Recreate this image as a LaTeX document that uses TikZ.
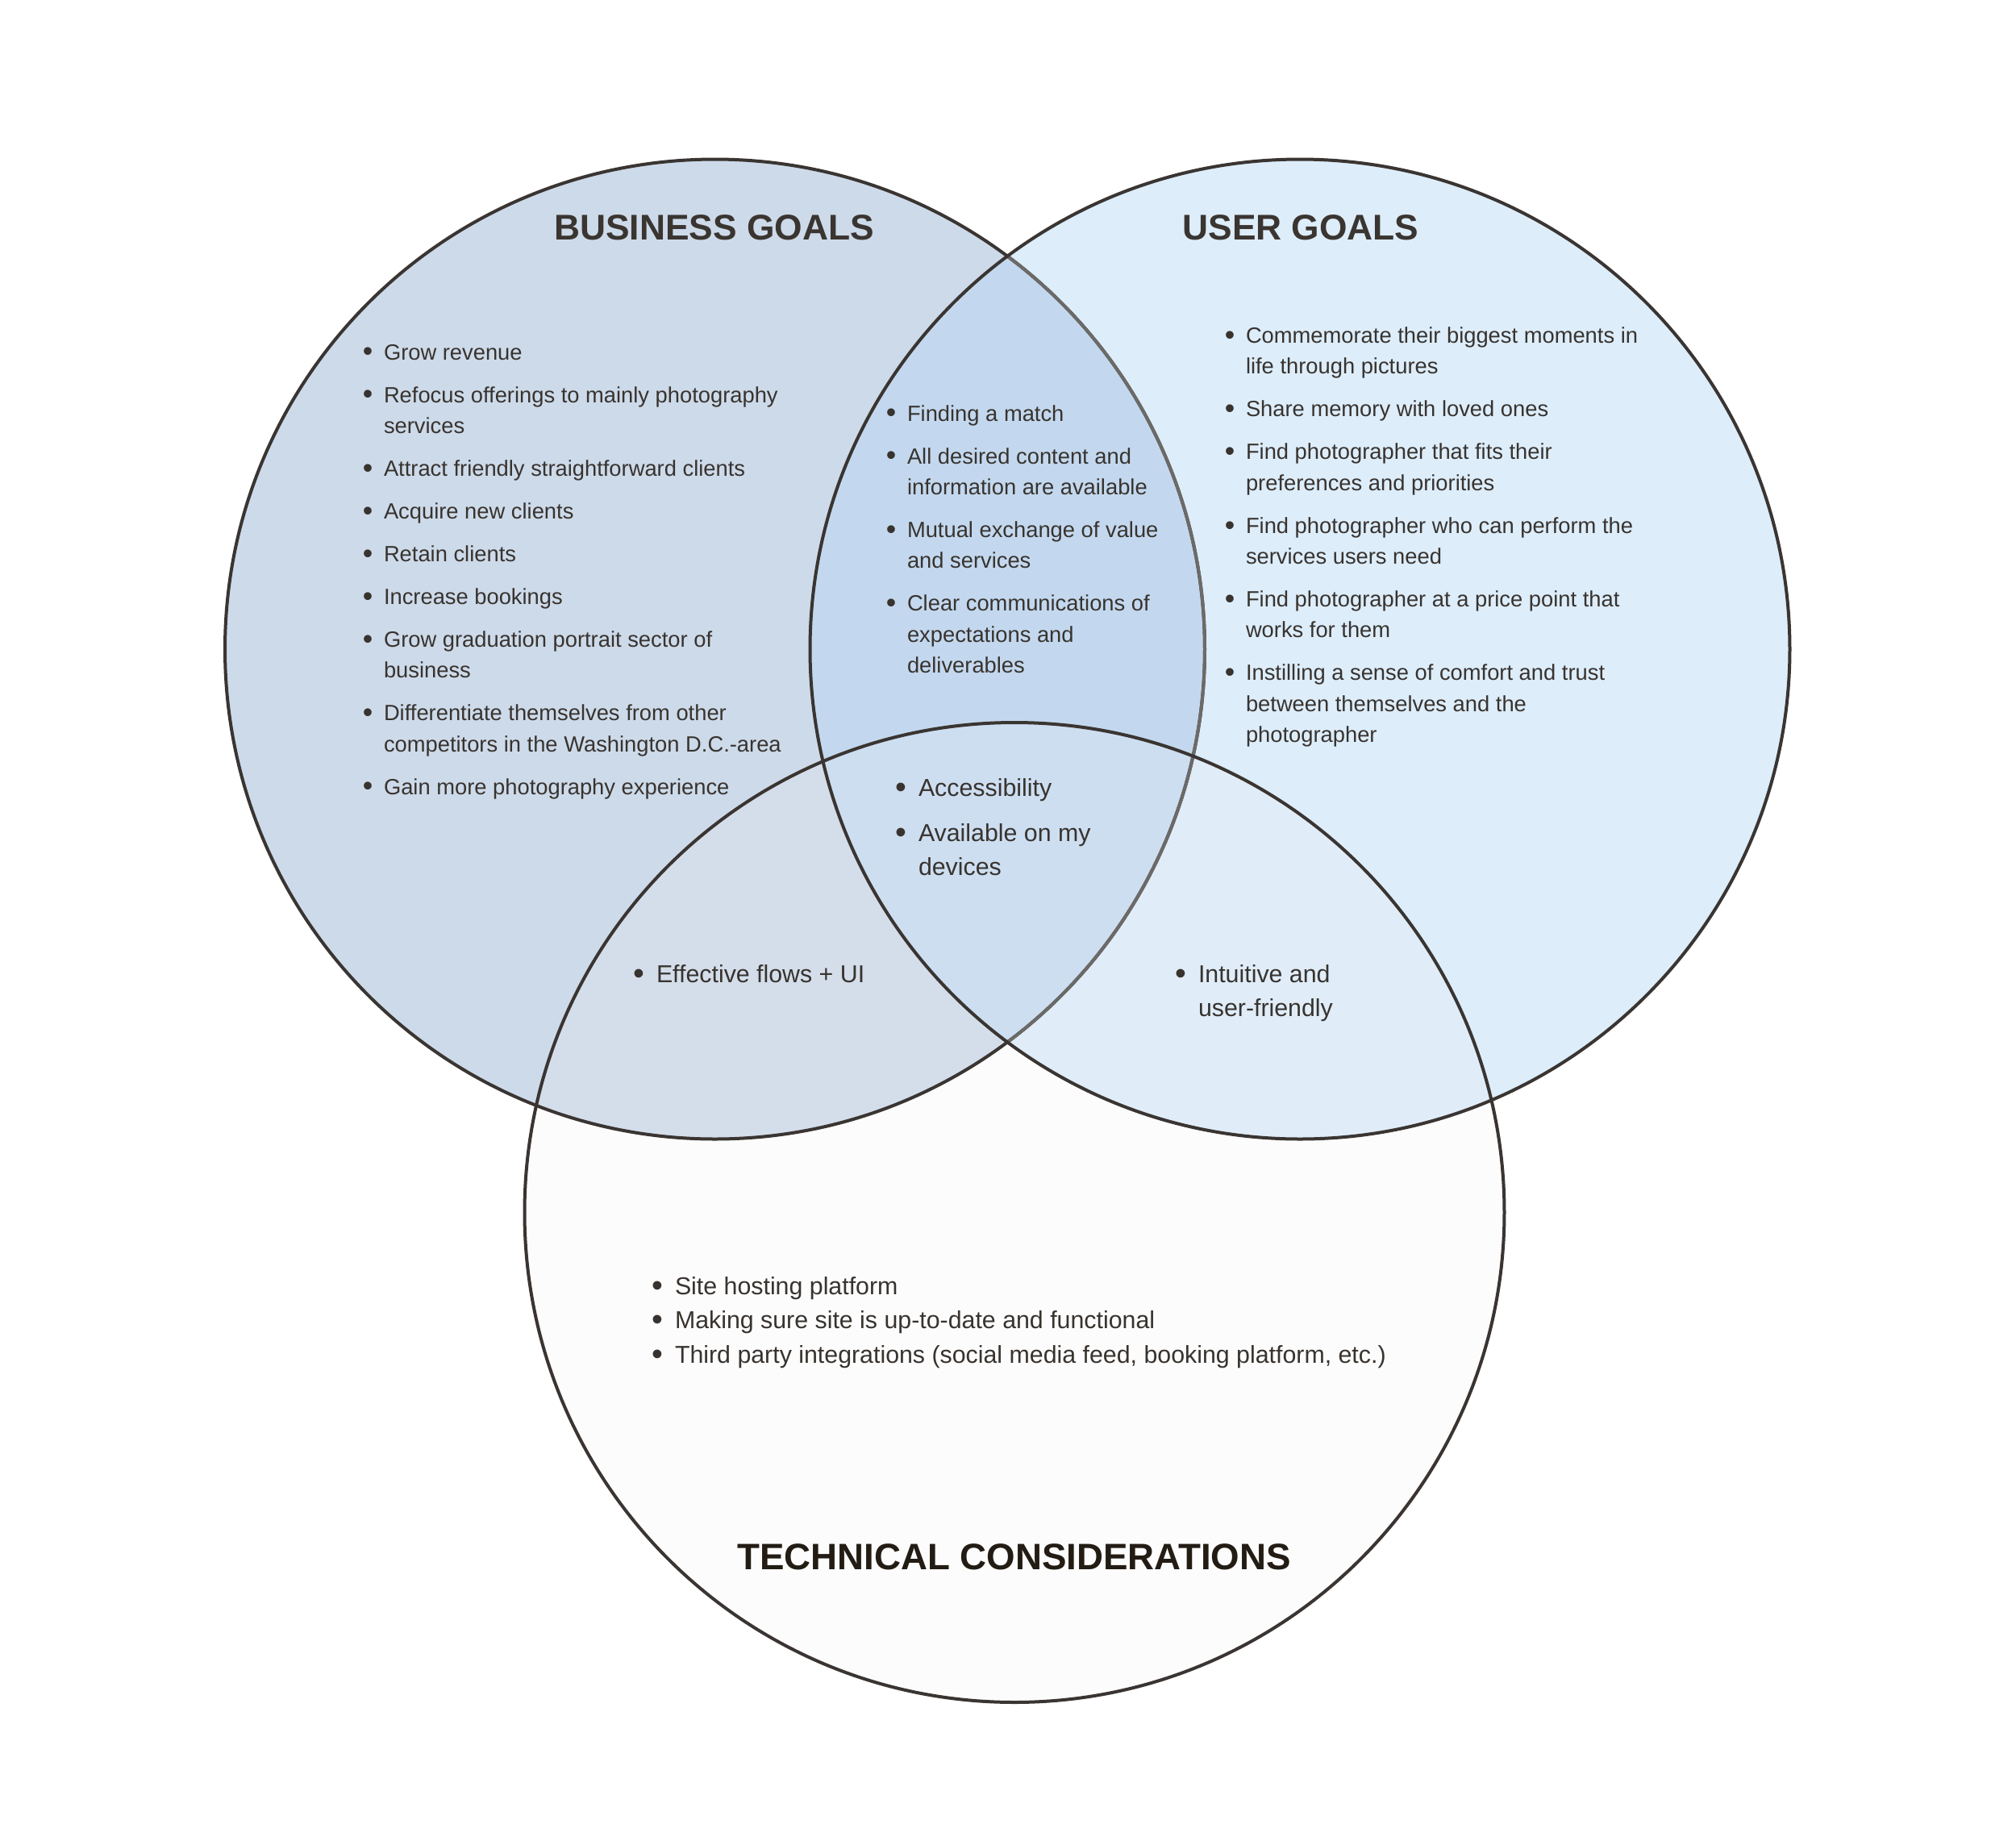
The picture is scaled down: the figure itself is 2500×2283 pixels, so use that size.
\documentclass[tikz,border=0pt]{standalone}
\usepackage{fontspec}
\setmainfont{Liberation Sans}
\definecolor{cA}{HTML}{CDDAE9}
\definecolor{cB}{HTML}{DDEDFA}
\definecolor{cC}{HTML}{FCFCFC}
\definecolor{cAB}{HTML}{C3D8EE}
\definecolor{cAC}{HTML}{D4DEEA}
\definecolor{cBC}{HTML}{E0EDF8}
\definecolor{cABC}{HTML}{CDDEF0}
\definecolor{stk}{HTML}{3A3532}
\definecolor{stkgray}{HTML}{6C6A68}
\definecolor{txt}{HTML}{38332F}
\definecolor{ttlA}{HTML}{3A3531}
\definecolor{ttlB}{HTML}{221C14}
\newcommand\bodyA{\fontsize{8.2}{11.5}\selectfont}
\newcommand\bodyB{\fontsize{9.1}{12.6}\selectfont}
\newcommand\bodyC{\fontsize{9.1}{12.75}\selectfont}
\newcommand\ttlfont{\fontsize{13.3}{15}\selectfont\bfseries}
\newcommand\ttlfontB{\fontsize{13.7}{15}\selectfont\bfseries}
\newcommand\bl[1]{\makebox[0pt][r]{\raisebox{-0.07em}{\scalebox{1.3}{\textbullet}}\hspace{0.5em}}#1}
\tikzset{
  lst/.style={anchor=base west, inner sep=0pt, outer sep=0pt, text=txt},
  ttl/.style={anchor=base, inner sep=0pt, font=\ttlfont},
  ring/.style={draw=stk, line width=1.2pt},
}
\begin{document}
\begin{tikzpicture}[x=0.3pt,y=-0.3pt]
\useasboundingbox (0,0) rectangle (2500,2283);
\fill[white] (0,0) rectangle (2500,2283);
\def\CA{(886.5,805) circle [radius=182.25pt]}
\def\CB{(1612,805) circle [radius=182.25pt]}
\def\CC{(1258,1503.5) circle [radius=182.25pt]}
% region fills
\fill[cA] \CA;
\fill[cB] \CB;
\fill[cC] \CC;
\begin{scope}
  \clip \CA;
  \fill[cAB] \CB;
  \fill[cAC] \CC;
\end{scope}
\begin{scope}
  \clip \CB;
  \fill[cBC] \CC;
\end{scope}
\begin{scope}
  \clip \CA;
  \clip \CB;
  \fill[cABC] \CC;
\end{scope}
% outlines
\draw[ring] \CA;
\begin{scope}
  \clip \CB;
  \draw[ring, draw=stkgray] \CA;
\end{scope}
\draw[ring] \CB;
\draw[ring] \CC;
% titles
\node[ttl, text=ttlA] (tbiz) at (885.5,297) {BUSINESS GOALS};
\node[ttl, text=ttlA] (tuser) at (1613,297) {USER GOALS};
\node[ttl, text=ttlB, font=\ttlfontB] (ttech) at (1257.5,1946) {TECHNICAL CONSIDERATIONS};
% business list
\node[lst] (lbiz) at (476,446) {\bodyA\begin{tabular}[t]{@{}l@{}}
\bl{Grow revenue}\\[4.4pt]
\bl{Refocus offerings to mainly photography}\\
services\\[4.4pt]
\bl{Attract friendly straightforward clients}\\[4.4pt]
\bl{Acquire new clients}\\[4.4pt]
\bl{Retain clients}\\[4.4pt]
\bl{Increase bookings}\\[4.4pt]
\bl{Grow graduation portrait sector of}\\
business\\[4.4pt]
\bl{Differentiate themselves from other}\\
competitors in the Washington D.C.-area\\[4.4pt]
\bl{Gain more photography experience}
\end{tabular}};
% business & user
\node[lst] (lbu) at (1125,522) {\bodyA\begin{tabular}[t]{@{}l@{}}
\bl{Finding a match}\\[4.4pt]
\bl{All desired content and}\\
information are available\\[4.4pt]
\bl{Mutual exchange of value}\\
and services\\[4.4pt]
\bl{Clear communications of}\\
expectations and\\
deliverables
\end{tabular}};
% user list
\node[lst] (luser) at (1545,425.5) {\bodyA\begin{tabular}[t]{@{}l@{}}
\bl{Commemorate their biggest moments in}\\
life through pictures\\[4.4pt]
\bl{Share memory with loved ones}\\[4.4pt]
\bl{Find photographer that fits their}\\
preferences and priorities\\[4.4pt]
\bl{Find photographer who can perform the}\\
services users need\\[4.4pt]
\bl{Find photographer at a price point that}\\
works for them\\[4.4pt]
\bl{Instilling a sense of comfort and trust}\\
between themselves and the\\
photographer
\end{tabular}};
% centre
\node[lst] (lall) at (1139,987) {\bodyB\begin{tabular}[t]{@{}l@{}}
\bl{Accessibility}\\[4.3pt]
\bl{Available on my}\\
devices
\end{tabular}};
% business & technical
\node[lst] (lbt) at (814,1218) {\bodyB\begin{tabular}[t]{@{}l@{}}
\bl{Effective flows + UI}
\end{tabular}};
% user & technical
\node[lst] (lut) at (1486,1218) {\bodyB\begin{tabular}[t]{@{}l@{}}
\bl{Intuitive and}\\
user-friendly
\end{tabular}};
% technical list
\node[lst] (ltech) at (837,1605) {\bodyC\begin{tabular}[t]{@{}l@{}}
\bl{Site hosting platform}\\
\bl{Making sure site is up-to-date and functional}\\
\bl{Third party integrations (social media feed, booking platform, etc.)}
\end{tabular}};
\end{tikzpicture}
\end{document}
